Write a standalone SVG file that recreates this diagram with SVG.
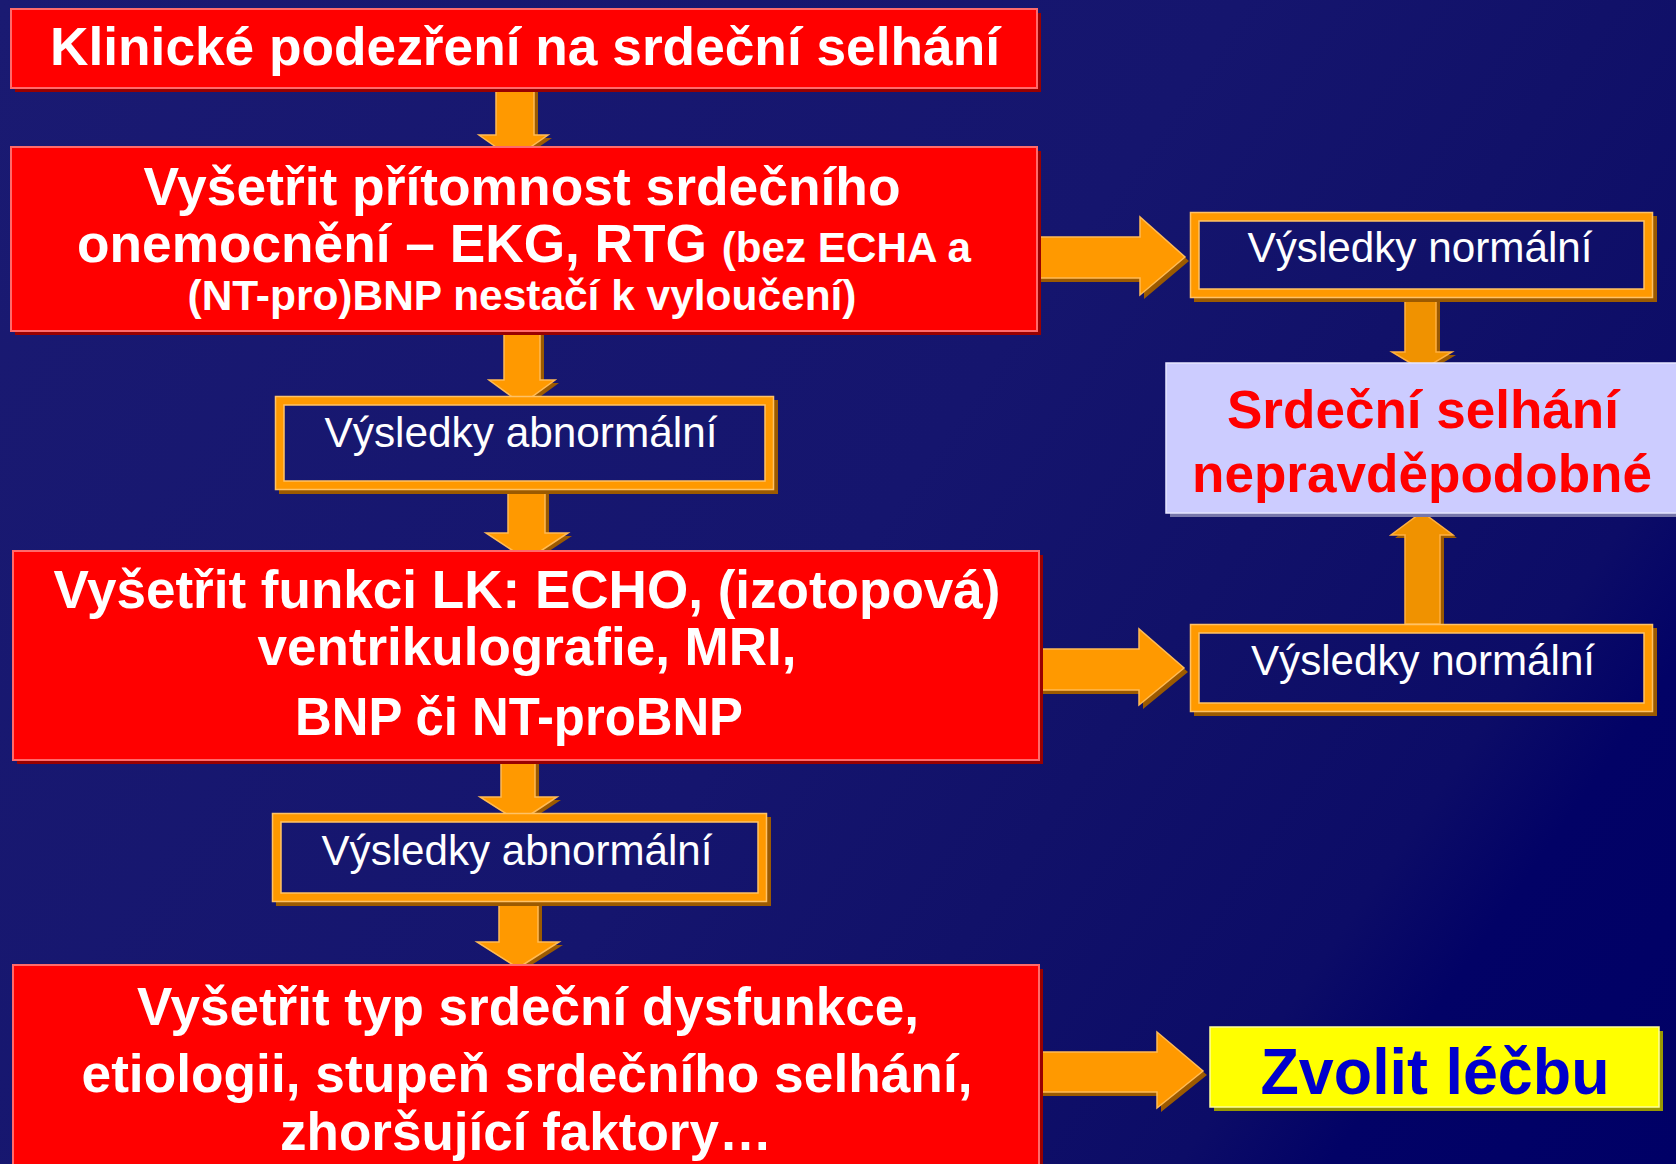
<svg xmlns="http://www.w3.org/2000/svg" width="1676" height="1164" viewBox="0 0 1676 1164">
<defs>
<linearGradient id="bg" gradientUnits="userSpaceOnUse" x1="0" y1="0" x2="1676" y2="1164">
<stop offset="0" stop-color="#1a1a72"/>
<stop offset="0.5" stop-color="#15156e"/>
<stop offset="0.65" stop-color="#111169"/>
<stop offset="0.8" stop-color="#0c0c67"/>
<stop offset="0.86" stop-color="#020266"/>
<stop offset="1" stop-color="#000066"/>
</linearGradient>
<style>
.red{fill:#ff0000;stroke:#ff6a6a;stroke-width:2}
.redsh{fill:#990000}
.frame{fill:url(#bg);stroke:#ff9900;stroke-width:9}
.framesh{fill:none;stroke:#9c5a00;stroke-width:9}
.hl{fill:none;stroke:#ffc266;stroke-width:1.5}
.arr{fill:#ff9900;stroke:#ffbb55;stroke-width:1.5}
.arr2{fill:#f09200;stroke:#ffb040;stroke-width:1.5}
.arrsh{fill:#9c5a00}
.bw{font-family:"Liberation Sans",Arial,sans-serif;font-weight:bold;fill:#ffffff;font-size:53px}
.rw{font-family:"Liberation Sans",Arial,sans-serif;fill:#ffffff;font-size:42px}
</style>
</defs>
<rect x="0" y="0" width="1676" height="1164" fill="url(#bg)"/>

<g id="connectors">
<!-- A1 -->
<polygon class="arrsh" transform="translate(4,3)" points="496,88 534,88 534,135 548,135 513,159 479,135 496,135"/>
<polygon class="arr" points="496,88 534,88 534,135 548,135 513,159 479,135 496,135"/>
<!-- A2 -->
<polygon class="arrsh" transform="translate(4,3)" points="504,331 540,331 540,380 555,380 522,404 489,380 504,380"/>
<polygon class="arr" points="504,331 540,331 540,380 555,380 522,404 489,380 504,380"/>
<!-- A3 -->
<polygon class="arrsh" transform="translate(4,3)" points="508,485 545,485 545,533 568,533 527,560 486,533 508,533"/>
<polygon class="arr" points="508,485 545,485 545,533 568,533 527,560 486,533 508,533"/>
<!-- A4 -->
<polygon class="arrsh" transform="translate(4,3)" points="501,760 535,760 535,797 557,797 519,822 480,797 501,797"/>
<polygon class="arr" points="501,760 535,760 535,797 557,797 519,822 480,797 501,797"/>
<!-- A5 -->
<polygon class="arrsh" transform="translate(4,3)" points="499,902 538,902 538,942 559,942 518,968 477,942 499,942"/>
<polygon class="arr" points="499,902 538,902 538,942 559,942 518,968 477,942 499,942"/>
<!-- R1 -->
<polygon class="arrsh" transform="translate(4,4)" points="1035,237 1140,237 1140,217 1185,257 1140,295 1140,278 1035,278"/>
<polygon class="arr" points="1035,237 1140,237 1140,217 1185,257 1140,295 1140,278 1035,278"/>
<!-- R2 -->
<polygon class="arrsh" transform="translate(4,4)" points="1037,649 1139,649 1139,629 1184,668 1139,705 1139,690 1037,690"/>
<polygon class="arr" points="1037,649 1139,649 1139,629 1184,668 1139,705 1139,690 1037,690"/>
<!-- R3 -->
<polygon class="arrsh" transform="translate(4,4)" points="1035,1052 1157,1052 1157,1032 1203,1071 1157,1108 1157,1092 1035,1092"/>
<polygon class="arr" points="1035,1052 1157,1052 1157,1032 1203,1071 1157,1108 1157,1092 1035,1092"/>
<!-- D1 -->
<polygon class="arrsh" transform="translate(4,3)" points="1405,298 1436,298 1436,352 1452,352 1422,370 1392,352 1405,352"/>
<polygon class="arr2" points="1405,298 1436,298 1436,352 1452,352 1422,370 1392,352 1405,352"/>
<!-- U1 -->
<polygon class="arrsh" transform="translate(4,3)" points="1405,624 1440,624 1440,535 1453,535 1422,512 1391,535 1405,535"/>
<polygon class="arr2" points="1405,624 1440,624 1440,535 1453,535 1422,512 1391,535 1405,535"/>
</g>

<g id="node-suspicion">
<rect class="redsh" x="15" y="13" width="1026" height="79"/>
<rect class="red" x="11" y="9" width="1026" height="79"/>
<text class="bw" x="525" y="65" text-anchor="middle" textLength="950" lengthAdjust="spacingAndGlyphs">Klinické podezření na srdeční selhání</text>
</g>

<g id="node-ekg">
<rect class="redsh" x="15" y="151" width="1026" height="184"/>
<rect class="red" x="11" y="147" width="1026" height="184"/>
<text class="bw" x="522" y="205" text-anchor="middle" textLength="757" lengthAdjust="spacingAndGlyphs">Vyšetřit přítomnost srdečního</text>
<text class="bw" x="77" y="262" textLength="894" lengthAdjust="spacingAndGlyphs">onemocnění – EKG, RTG <tspan font-size="42">(bez ECHA a</tspan></text>
<text class="bw" x="522" y="310" text-anchor="middle" font-size="42" style="font-size:42px" textLength="669" lengthAdjust="spacingAndGlyphs">(NT-pro)BNP nestačí k vyloučení)</text>
</g>

<g id="node-abnormal1">
<rect class="framesh" x="283.5" y="404.5" width="490" height="85"/>
<rect class="frame" x="279.5" y="400.5" width="490" height="85"/>
<rect class="hl" x="275.5" y="396.5" width="498" height="93"/>
<rect class="hl" x="284" y="405" width="481" height="76"/>
<text class="rw" x="521" y="447" text-anchor="middle" textLength="393" lengthAdjust="spacingAndGlyphs">Výsledky abnormální</text>
</g>

<g id="node-normal1">
<rect class="framesh" x="1198.5" y="220.5" width="454" height="77"/>
<rect class="frame" x="1194.5" y="216.5" width="454" height="77"/>
<rect class="hl" x="1190.5" y="212.5" width="462" height="85"/>
<rect class="hl" x="1199" y="221" width="445" height="68"/>
<text class="rw" x="1420" y="262" text-anchor="middle" textLength="345" lengthAdjust="spacingAndGlyphs">Výsledky normální</text>
</g>

<g id="node-unlikely">
<rect x="1170" y="367" width="515" height="150" fill="#7777aa"/>
<rect x="1166" y="363" width="515" height="150" fill="#ccccff" stroke="#e6e6ff" stroke-width="1.5"/>
<text class="bw" x="1423" y="428" text-anchor="middle" fill="#ff0000" style="fill:#ff0000" textLength="392" lengthAdjust="spacingAndGlyphs">Srdeční selhání</text>
<text class="bw" x="1422" y="492" text-anchor="middle" style="fill:#ff0000" textLength="460" lengthAdjust="spacingAndGlyphs">nepravděpodobné</text>
</g>

<g id="node-lvfunction">
<rect class="redsh" x="17" y="555" width="1026" height="209"/>
<rect class="red" x="13" y="551" width="1026" height="209"/>
<text class="bw" x="527" y="608" text-anchor="middle" textLength="947" lengthAdjust="spacingAndGlyphs">Vyšetřit funkci LK: ECHO, (izotopová)</text>
<text class="bw" x="527" y="665" text-anchor="middle" textLength="539" lengthAdjust="spacingAndGlyphs">ventrikulografie, MRI,</text>
<text class="bw" x="519" y="735" text-anchor="middle" textLength="448" lengthAdjust="spacingAndGlyphs">BNP či NT-proBNP</text>
</g>

<g id="node-normal2">
<rect class="framesh" x="1198.5" y="632.5" width="454" height="79"/>
<rect class="frame" x="1194.5" y="628.5" width="454" height="79"/>
<rect class="hl" x="1190.5" y="624.5" width="462" height="87"/>
<rect class="hl" x="1199" y="633" width="445" height="70"/>
<text class="rw" x="1423" y="675" text-anchor="middle" textLength="344" lengthAdjust="spacingAndGlyphs">Výsledky normální</text>
</g>

<g id="node-abnormal2">
<rect class="framesh" x="280.5" y="821.5" width="486" height="80"/>
<rect class="frame" x="276.5" y="817.5" width="486" height="80"/>
<rect class="hl" x="272.5" y="813.5" width="494" height="88"/>
<rect class="hl" x="281" y="822" width="477" height="71"/>
<text class="rw" x="517" y="865" text-anchor="middle" textLength="391" lengthAdjust="spacingAndGlyphs">Výsledky abnormální</text>
</g>

<g id="node-type">
<rect class="redsh" x="17" y="969" width="1026" height="210"/>
<rect class="red" x="13" y="965" width="1026" height="210"/>
<text class="bw" x="528" y="1025" text-anchor="middle" textLength="782" lengthAdjust="spacingAndGlyphs">Vyšetřit typ srdeční dysfunkce,</text>
<text class="bw" x="527" y="1092" text-anchor="middle" textLength="891" lengthAdjust="spacingAndGlyphs">etiologii, stupeň srdečního selhání,</text>
<text class="bw" x="526" y="1150" text-anchor="middle" textLength="492" lengthAdjust="spacingAndGlyphs">zhoršující faktory…</text>
</g>

<g id="node-treatment">
<rect x="1214" y="1031" width="449" height="80" fill="#999900"/>
<rect x="1210" y="1027" width="449" height="80" fill="#ffff00" stroke="#ffff99" stroke-width="1.5"/>
<text class="bw" x="1435" y="1094" text-anchor="middle" style="fill:#0000cc;font-size:64px" textLength="349" lengthAdjust="spacingAndGlyphs">Zvolit léčbu</text>
</g>
</svg>
